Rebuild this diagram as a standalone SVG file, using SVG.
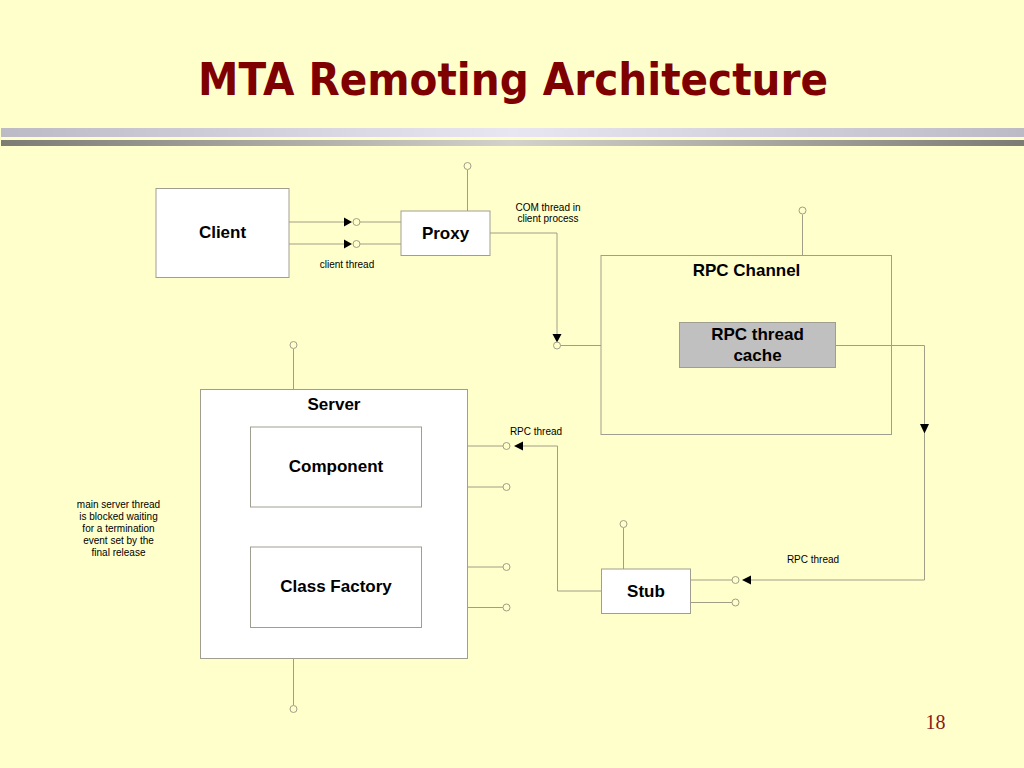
<svg xmlns="http://www.w3.org/2000/svg" width="1024" height="768" viewBox="0 0 1024 768">
<defs>
<linearGradient id="barLight" x1="0" y1="0" x2="1" y2="0">
<stop offset="0" stop-color="#bcbac4"/>
<stop offset="0.5" stop-color="#e8e6f0"/>
<stop offset="1" stop-color="#bcbac4"/>
</linearGradient>
<linearGradient id="barDark" x1="0" y1="0" x2="1" y2="0">
<stop offset="0" stop-color="#7c7c74"/>
<stop offset="0.5" stop-color="#d2d2ca"/>
<stop offset="1" stop-color="#7c7c74"/>
</linearGradient>
</defs>
<style>
.box{fill:#ffffff;stroke:#a09e90;stroke-width:1}
.frame{fill:none;stroke:#a09e90;stroke-width:1}
.line{fill:none;stroke:#a09e86;stroke-width:1}
.port{fill:none;stroke:#a09e86;stroke-width:1}
.lbl{font-family:"Liberation Sans",Arial,sans-serif;font-weight:bold;font-size:17px;fill:#000;text-anchor:middle}
.small{font-family:"Liberation Sans",Arial,sans-serif;font-size:10px;fill:#000;text-anchor:middle}
.tip{fill:#000}
</style>
<rect x="0" y="0" width="1024" height="768" fill="#ffffcc"/>
<text x="198" y="95" font-family="'DejaVu Sans',Verdana,sans-serif" font-weight="bold" font-size="44" fill="#7f0000" textLength="630" lengthAdjust="spacingAndGlyphs">MTA Remoting Architecture</text>
<rect x="1" y="128" width="1023" height="9" fill="url(#barLight)"/>
<rect x="1" y="140" width="1023" height="6" fill="url(#barDark)"/>

<g id="connectors">
<line class="line" x1="289" y1="222" x2="344" y2="222"/>
<line class="line" x1="360" y1="222" x2="401" y2="222"/>
<line class="line" x1="289" y1="244" x2="344" y2="244"/>
<line class="line" x1="360" y1="244" x2="401" y2="244"/>
<path class="tip" d="M344,217.5 L352,222 L344,226.5 Z"/>
<circle class="port" cx="356.5" cy="222" r="3.5"/>
<path class="tip" d="M344,239.5 L352,244 L344,248.5 Z"/>
<circle class="port" cx="356.5" cy="244" r="3.5"/>
<line class="line" x1="467.5" y1="211" x2="467.5" y2="170"/>
<circle class="port" cx="467.5" cy="166" r="3.5"/>
<polyline class="line" points="490,233 557,233 557,334"/>
<path class="tip" d="M552.5,334 L561.5,334 L557,342.5 Z"/>
<circle class="port" cx="557" cy="345.5" r="3.5"/>
<line class="line" x1="560.5" y1="345.5" x2="601" y2="345.5"/>
<line class="line" x1="802.5" y1="255" x2="802.5" y2="214.5"/>
<circle class="port" cx="802.5" cy="210.5" r="3.5"/>
<polyline class="line" points="836,345.5 924.5,345.5 924.5,424"/>
<path class="tip" d="M920,424 L929,424 L924.5,433.5 Z"/>
<polyline class="line" points="924.5,433 924.5,580 751,580"/>
<path class="tip" d="M751,575.5 L751,584.5 L742,580 Z"/>
<circle class="port" cx="735.5" cy="580" r="3.5"/>
<line class="line" x1="691" y1="580" x2="732" y2="580"/>
<line class="line" x1="691" y1="602.5" x2="732" y2="602.5"/>
<circle class="port" cx="735.5" cy="602.5" r="3.5"/>
<line class="line" x1="623.5" y1="569" x2="623.5" y2="528"/>
<circle class="port" cx="623.5" cy="524" r="3.5"/>
<polyline class="line" points="601,591 557.5,591 557.5,446 523,446"/>
<path class="tip" d="M523,441.5 L523,450.5 L514,446 Z"/>
<line class="line" x1="422" y1="446" x2="503" y2="446"/>
<circle class="port" cx="506.5" cy="446" r="3.5"/>
<line class="line" x1="422" y1="487" x2="503" y2="487"/>
<circle class="port" cx="506.5" cy="487" r="3.5"/>
<line class="line" x1="422" y1="567" x2="503" y2="567"/>
<circle class="port" cx="506.5" cy="567" r="3.5"/>
<line class="line" x1="422" y1="607.5" x2="503" y2="607.5"/>
<circle class="port" cx="506.5" cy="607.5" r="3.5"/>
<line class="line" x1="293.5" y1="427" x2="293.5" y2="349"/>
<circle class="port" cx="293.5" cy="345" r="3.5"/>
<line class="line" x1="293.5" y1="627" x2="293.5" y2="705"/>
<circle class="port" cx="293.5" cy="709" r="3.5"/>
</g>

<g id="client">
<rect class="box" x="156" y="188.5" width="133" height="89"/>
<text class="lbl" x="222.5" y="238">Client</text>
</g>
<g id="proxy">
<rect class="box" x="401" y="211" width="89" height="44.5"/>
<text class="lbl" x="445.5" y="239">Proxy</text>
</g>
<g id="rpc-channel">
<rect class="frame" x="601" y="255.5" width="290.5" height="179"/>
<text class="lbl" x="746.5" y="276">RPC Channel</text>
</g>
<g id="rpc-thread-cache">
<rect x="679.5" y="322.5" width="156" height="45" fill="#c0c0c0" stroke="#a09e90"/>
<text class="lbl" x="757.5" y="339.5">RPC thread</text>
<text class="lbl" x="757.5" y="360.5">cache</text>
</g>
<g id="server">
<rect class="box" x="200.5" y="389.5" width="267" height="269"/>
<text class="lbl" x="334" y="410">Server</text>
</g>
<g id="component">
<rect class="box" x="250.5" y="427" width="171" height="80"/>
<text class="lbl" x="336" y="472">Component</text>
</g>
<g id="class-factory">
<rect class="box" x="250.5" y="547" width="171" height="80.5"/>
<text class="lbl" x="336" y="592">Class Factory</text>
</g>
<g id="stub">
<rect class="box" x="601.5" y="569" width="89" height="44.5"/>
<text class="lbl" x="646" y="597">Stub</text>
</g>

<g id="labels">
<text class="small" x="548" y="211">COM thread in</text>
<text class="small" x="548" y="222">client process</text>
<text class="small" x="347" y="267.5">client thread</text>
<text class="small" x="536" y="435">RPC thread</text>
<text class="small" x="813" y="563">RPC thread</text>
<text class="small" x="118.5" y="507.5">main server thread</text>
<text class="small" x="118.5" y="519.5">is blocked waiting</text>
<text class="small" x="118.5" y="531.5">for a termination</text>
<text class="small" x="118.5" y="543.5">event set by the</text>
<text class="small" x="118.5" y="555.5">final release</text>
</g>
<text x="935.5" y="728.5" font-family="'Liberation Serif','Times New Roman',serif" font-size="20" fill="#8b1a1a" text-anchor="middle">18</text>
</svg>
